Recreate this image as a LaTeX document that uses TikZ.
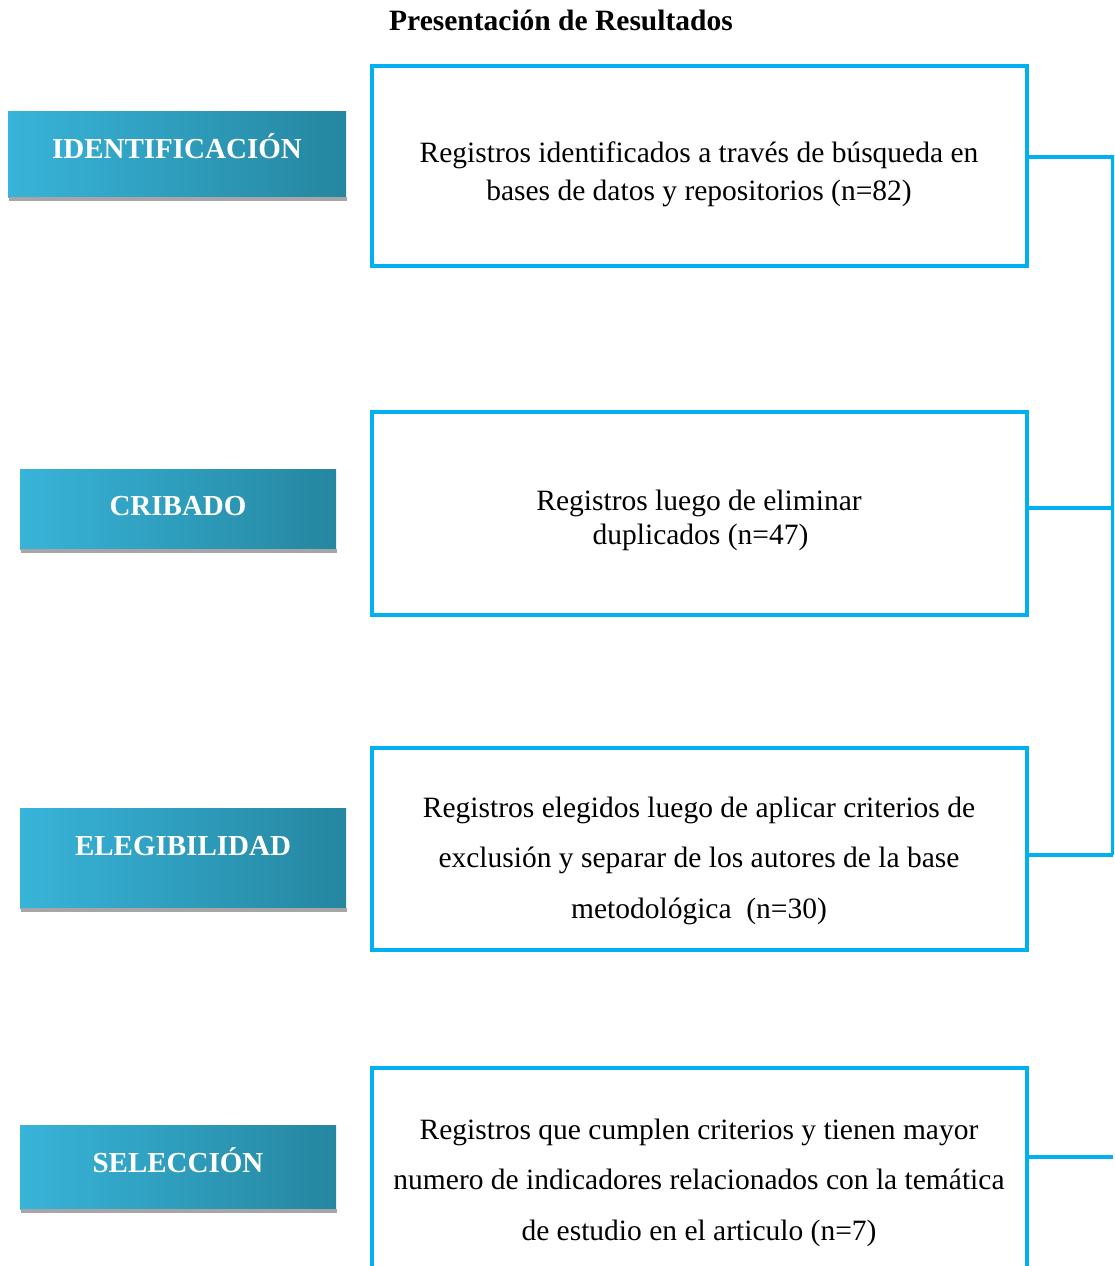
\documentclass[tikz,border=0pt]{standalone}
\usepackage{fontspec}
\setmainfont{Liberation Serif}
\definecolor{cyanline}{HTML}{00B0F0}
\definecolor{gradL}{HTML}{38B4D9}
\definecolor{gradR}{HTML}{2586A0}
\definecolor{shadowgray}{HTML}{A6A6A6}
\begin{document}
\begin{tikzpicture}[x=1pt,y=-1pt,
  box/.style={draw=cyanline, line width=4.5pt, minimum width=655pt, inner sep=0pt},
  boxtext/.style={align=center, font=\fontsize{29.5}{#1}\selectfont, inner sep=0pt},
  stage/.style={left color=gradL, right color=gradR, inner sep=0pt},
  stagetext/.style={text=white, font=\bfseries\fontsize{29}{34}\selectfont, inner sep=0pt},
  shadowstrip/.style={fill=shadowgray},
  conn/.style={draw=cyanline, line width=4.5pt}]
\useasboundingbox (0,0) rectangle (1114,1266);
\clip (0,0) rectangle (1114,1266);

% title
\node[font=\bfseries\fontsize{29.5}{34}\selectfont, inner sep=0pt] (title) at (561,20) {Presentación de Resultados};

% stage labels
\node[stage, minimum width=338pt, minimum height=86pt] (s1) at (177,154) {};
\fill[shadowstrip] ([xshift=1pt]s1.south west) rectangle ([xshift=1pt,yshift=-4pt]s1.south east);
\node[stagetext] (t1) at (177,146) {IDENTIFICACIÓN};

\node[stage, minimum width=316pt, minimum height=80pt] (s2) at (178,509) {};
\fill[shadowstrip] ([xshift=1pt]s2.south west) rectangle ([xshift=1pt,yshift=-4pt]s2.south east);
\node[stagetext] (t2) at (178,506) {CRIBADO};

\node[stage, minimum width=326pt, minimum height=100pt] (s3) at (183,858) {};
\fill[shadowstrip] ([xshift=1pt]s3.south west) rectangle ([xshift=1pt,yshift=-4pt]s3.south east);
\node[stagetext] (t3) at (183,846) {ELEGIBILIDAD};

\node[stage, minimum width=316pt, minimum height=84pt] (s4) at (178,1167) {};
\fill[shadowstrip] ([xshift=1pt]s4.south west) rectangle ([xshift=1pt,yshift=-4pt]s4.south east);
\node[stagetext] (t4) at (178,1160) {SELECCIÓN};

% boxes
\node[box, minimum height=200pt] (b1) at (699.5,166) {};
\node[boxtext=38] (bt1) at (699,174) {Registros identificados a través de búsqueda en\\bases de datos y repositorios (n=82)};

\node[box, minimum height=203pt] (b2) at (699.5,513.5) {};
\node[boxtext=34] (bt2) at (699,520) {Registros luego de eliminar\\\hspace*{3pt}duplicados (n=47)};

\node[box, minimum height=202pt] (b3) at (699.5,849) {};
\node[boxtext=50.5] (bt3) at (699,860.5) {Registros elegidos luego de aplicar criterios de\\exclusión y separar de los autores de la base\\metodológica\ \ (n=30)};

\node[box, minimum height=232pt] (b4) at (699.5,1184) {};
\node[boxtext=50.5] (bt4) at (699,1182.5) {Registros que cumplen criterios y tienen mayor\\numero de indicadores relacionados con la temática\\de estudio en el articulo (n=7)};

% connectors
\coordinate (j1) at (1113,157);
\coordinate (j2) at (1113,508);
\coordinate (j3) at (1113,855);
\coordinate (j4) at (1113,1157);
\draw[conn] (b1.east |- j1) -- (j1);
\draw[conn] (b2.east |- j2) -- (j2);
\draw[conn] (b3.east |- j3) -- (j3);
\draw[conn] (b4.east |- j4) -- (j4);
\draw[conn] ([yshift=2.25pt]j1) -- (j3);
\end{tikzpicture}
\end{document}
